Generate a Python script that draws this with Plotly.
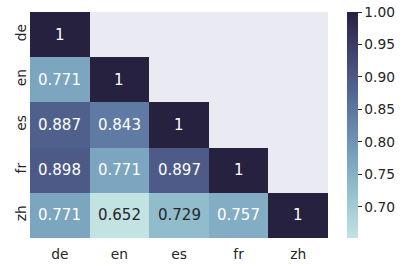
import numpy as np
import plotly.graph_objects as go

langs = ["de", "en", "es", "fr", "zh"]
row_de = [1.0, None, None, None, None]
row_en = [0.771, 1.0, None, None, None]
row_es = [0.887, 0.843, 1.0, None, None]
row_fr = [0.898, 0.771, 0.897, 1.0, None]
row_zh = [0.771, 0.652, 0.729, 0.757, 1.0]
colorbar_ticks = [0.70, 0.75, 0.80, 0.85, 0.90, 0.95, 1.00]

z = [row_de, row_en, row_es, row_fr, row_zh]
vals = [v for r in z for v in r if v is not None]
zmin, zmax = min(vals), max(vals)


# seaborn cubehelix "ch:start=.2,rot=-.3"
def cubehelix(x, start=0.2, rot=-0.3, gamma=1.0, hue=0.8):
    xg = x ** gamma
    a = hue * xg * (1 - xg) / 2
    phi = 2 * np.pi * (start / 3 + rot * x)
    r = xg + a * (-0.14861 * np.cos(phi) + 1.78277 * np.sin(phi))
    g = xg + a * (-0.29227 * np.cos(phi) - 0.90649 * np.sin(phi))
    b = xg + a * (1.97294 * np.cos(phi))
    return [min(max(c, 0), 1) for c in (r, g, b)]


stops = np.linspace(0, 1, 21)
colorscale = []
for s in stops:
    x = 0.85 + (0.15 - 0.85) * s
    r, g, b = cubehelix(x)
    colorscale.append([float(s), f"rgb({round(r*255)},{round(g*255)},{round(b*255)})"])


def lum(v):
    s = (v - zmin) / (zmax - zmin)
    x = 0.85 + (0.15 - 0.85) * s
    rgb = cubehelix(x)
    lin = [c / 12.92 if c <= 0.03928 else ((c + 0.055) / 1.055) ** 2.4 for c in rgb]
    return 0.2126 * lin[0] + 0.7152 * lin[1] + 0.0722 * lin[2]


fig = go.Figure()
fig.add_trace(go.Heatmap(
    z=z, x=langs, y=langs, zmin=zmin, zmax=zmax,
    colorscale=colorscale, hoverongaps=False,
    colorbar=dict(
        thickness=11, len=1, lenmode="fraction", y=0, yanchor="bottom", ypad=0,
        x=1 + 19 / 298, xanchor="left", xpad=0, xref="paper",
        outlinewidth=0, tickvals=colorbar_ticks, tickformat=".2f",
        ticks="outside", ticklen=4, tickcolor="#262626",
        tickfont=dict(family="DejaVu Sans", size=13.8, color="#262626"),
    ),
))

for i, r in enumerate(z):
    for j, v in enumerate(r):
        if v is None:
            continue
        txt = "1" if v == 1 else f"{v:.3g}"
        color = "#262626" if lum(v) > 0.408 else "white"
        fig.add_annotation(x=langs[j], y=langs[i], text=txt, showarrow=False,
                           font=dict(family="DejaVu Sans", size=15, color=color))

fig.update_layout(
    width=407, height=268,
    margin=dict(l=30, r=79, t=12, b=30, autoexpand=False),
    paper_bgcolor="white", plot_bgcolor="#EAEAF2",
    xaxis=dict(showgrid=False, zeroline=False, ticks="", ticklen=0, automargin=False,
               ticklabelstandoff=6,
               tickfont=dict(family="DejaVu Sans", size=13.8, color="#262626")),
    yaxis=dict(showgrid=False, zeroline=False, autorange="reversed", ticks="",
               tickangle=-90, automargin=False,
               tickfont=dict(family="DejaVu Sans", size=13.8, color="#262626")),
)

fig.write_html("out.html", config={"displayModeBar": False})

with open("out.html", encoding="utf-8") as f:
    html = f.read()
html = html.replace("<head>", "<head><style>html,body{margin:0;padding:0;overflow:hidden;}</style>", 1)
with open("out.html", "w", encoding="utf-8") as f:
    f.write(html)
